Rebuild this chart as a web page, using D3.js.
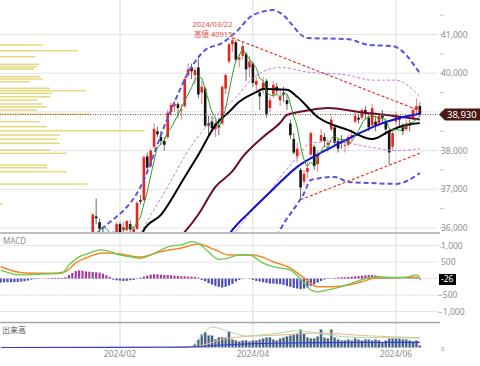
<!DOCTYPE html>
<html>
<head>
<meta charset="utf-8">
<script src="https://cdn.jsdelivr.net/npm/d3@7"></script>
<style>
  body { margin: 0; background: #fff; }
  svg { display: block; font-family: "Noto Sans", "Noto Sans CJK JP", sans-serif; }
</style>
</head>
<body>
<svg id="chart" width="480" height="366"></svg>
<script>
// ---- calendar ------------------------------------------------------------
const firstDay = '2023-12-08';
const lastDay  = '2024-06-12';
const holidays = ['2024-01-01', '2024-01-02', '2024-01-03', '2024-01-08', '2024-02-12',
                  '2024-02-23', '2024-03-20', '2024-04-29', '2024-05-03', '2024-05-06'];
const monthTicks  = ['2024-02-01', '2024-04-01', '2024-06-03'];
const monthLabels = ['2024/02', '2024/04', '2024/06'];

// ---- daily candles: [date, open, high, low, close] -----------------------
const ohlc = [
  ['2024-01-04', 33000, 33400, 32500, 33100], ['2024-01-05', 33050, 33300, 32950, 33180],
  ['2024-01-09', 33500, 33800, 33400, 33560], ['2024-01-10', 33600, 34300, 33550, 34240],
  ['2024-01-11', 34400, 34980, 34380, 34850], ['2024-01-12', 35200, 35640, 35100, 35380],
  ['2024-01-15', 35650, 35800, 35450, 35700], ['2024-01-16', 35700, 35750, 35240, 35420],
  ['2024-01-17', 35300, 35500, 35170, 35280], ['2024-01-18', 35280, 35360, 34900, 35270],
  ['2024-01-19', 35500, 35800, 35400, 35760], ['2024-01-22', 35900, 36380, 35850, 36350],
  ['2024-01-23', 36300, 36760, 36100, 36250], ['2024-01-24', 36150, 36250, 35900, 35980],
  ['2024-01-25', 35900, 36000, 35700, 35820], ['2024-01-26', 35800, 35850, 35450, 35520],
  ['2024-01-29', 35650, 35800, 35550, 35780], ['2024-01-30', 35850, 35920, 35700, 35820],
  ['2024-01-31', 35800, 36150, 35750, 36100], ['2024-02-01', 36100, 36150, 35800, 35880],
  ['2024-02-02', 35950, 36150, 35850, 36020], ['2024-02-05', 35950, 36200, 35900, 36180],
  ['2024-02-06', 36100, 36200, 35880, 35960], ['2024-02-07', 35900, 36050, 35800, 35980],
  ['2024-02-08', 35980, 36700, 35950, 36650], ['2024-02-09', 36720, 36850, 36600, 36680],
  ['2024-02-13', 36720, 37880, 36700, 37830], ['2024-02-14', 37850, 37950, 37500, 37560],
  ['2024-02-15', 37600, 38050, 37550, 38000], ['2024-02-16', 38100, 38700, 38050, 38560],
  ['2024-02-19', 38500, 38620, 38350, 38420], ['2024-02-20', 38350, 38500, 38150, 38250],
  ['2024-02-21', 38250, 38350, 38000, 38150], ['2024-02-22', 38350, 39050, 38300, 38980],
  ['2024-02-26', 39000, 39250, 38900, 39180], ['2024-02-27', 39150, 39300, 39000, 39200],
  ['2024-02-28', 39200, 39250, 38850, 39100], ['2024-02-29', 39050, 39200, 38800, 39060],
  ['2024-03-01', 39150, 39900, 39100, 39850], ['2024-03-04', 39950, 40250, 39900, 40100],
  ['2024-03-05', 40150, 40250, 39850, 40050], ['2024-03-06', 39950, 40150, 39700, 40080],
  ['2024-03-07', 40150, 40380, 39350, 39450], ['2024-03-08', 39500, 39800, 39200, 39650],
  ['2024-03-11', 39600, 39650, 38600, 38650], ['2024-03-12', 38700, 38900, 38400, 38650],
  ['2024-03-13', 38750, 38900, 38500, 38580], ['2024-03-14', 38550, 38800, 38350, 38700],
  ['2024-03-15', 38650, 38850, 38400, 38600], ['2024-03-18', 38700, 39700, 38650, 39650],
  ['2024-03-19', 39600, 40000, 39450, 39950], ['2024-03-21', 40300, 40800, 40250, 40750],
  ['2024-03-22', 40750, 40915, 40550, 40850], ['2024-03-25', 40800, 40850, 40300, 40350],
  ['2024-03-26', 40350, 40500, 40150, 40400], ['2024-03-27', 40450, 40800, 40350, 40700],
  ['2024-03-28', 40500, 40550, 39800, 40100], ['2024-03-29', 40150, 40450, 39900, 40300],
  ['2024-04-01', 40250, 40300, 39650, 39750], ['2024-04-02', 39700, 39900, 39550, 39800],
  ['2024-04-03', 39500, 39600, 39050, 39400], ['2024-04-04', 39600, 39900, 39450, 39750],
  ['2024-04-05', 39800, 39850, 38850, 38950], ['2024-04-08', 39100, 39400, 39000, 39300],
  ['2024-04-09', 39450, 39800, 39350, 39700], ['2024-04-10', 39650, 39750, 39450, 39550],
  ['2024-04-11', 39300, 39550, 39150, 39400], ['2024-04-12', 39500, 39650, 39250, 39450],
  ['2024-04-15', 39300, 39450, 39050, 39200], ['2024-04-16', 38700, 38800, 38300, 38400],
  ['2024-04-17', 38300, 38450, 37900, 37950], ['2024-04-18', 37850, 38200, 37700, 38050],
  ['2024-04-19', 37500, 37550, 36733, 37050], ['2024-04-22', 37200, 37500, 37100, 37400],
  ['2024-04-23', 37450, 37700, 37300, 37550], ['2024-04-24', 37900, 38500, 37850, 38450],
  ['2024-04-25', 38100, 38150, 37500, 37600], ['2024-04-26', 37650, 38000, 37450, 37900],
  ['2024-04-30', 38250, 38550, 38200, 38400], ['2024-05-01', 38350, 38450, 38100, 38250],
  ['2024-05-02', 38150, 38300, 37950, 38200], ['2024-05-07', 38550, 38900, 38500, 38800],
  ['2024-05-08', 38600, 38650, 38100, 38200], ['2024-05-09', 38250, 38300, 37950, 38050],
  ['2024-05-10', 38250, 38400, 38050, 38200], ['2024-05-13', 38150, 38300, 37950, 38150],
  ['2024-05-14', 38150, 38400, 38100, 38350], ['2024-05-15', 38350, 38550, 38250, 38400],
  ['2024-05-16', 38750, 39050, 38700, 38900], ['2024-05-17', 38850, 38950, 38700, 38800],
  ['2024-05-20', 38850, 39100, 38800, 39050], ['2024-05-21', 39050, 39150, 38800, 38950],
  ['2024-05-22', 38850, 38950, 38500, 38600], ['2024-05-23', 38650, 39200, 38600, 39100],
  ['2024-05-24', 38750, 38900, 38500, 38650], ['2024-05-27', 38700, 38950, 38650, 38900],
  ['2024-05-28', 38900, 39050, 38700, 38850], ['2024-05-29', 38750, 38800, 38400, 38550],
  ['2024-05-30', 38500, 38550, 37650, 37950], ['2024-05-31', 38100, 38500, 38000, 38450],
  ['2024-06-03', 38750, 39000, 38650, 38900], ['2024-06-04', 38850, 38900, 38600, 38800],
  ['2024-06-05', 38600, 38700, 38400, 38500], ['2024-06-06', 38550, 38800, 38500, 38700],
  ['2024-06-07', 38700, 38800, 38500, 38650], ['2024-06-10', 38850, 39100, 38800, 39050],
  ['2024-06-11', 39050, 39350, 38950, 39150], ['2024-06-12', 39150, 39250, 38880, 38930]
];
const lastPrice = 38930;

// ---- indicator lines: [date, value] --------------------------------------
const ma25 = [['2024-02-09', 35600], ['2024-02-13', 35950], ['2024-02-20', 36340], ['2024-03-01', 37320],
  ['2024-03-07', 37890], ['2024-03-14', 38660], ['2024-03-21', 39000], ['2024-03-26', 39260],
  ['2024-04-02', 39510], ['2024-04-04', 39590], ['2024-04-15', 39570], ['2024-04-18', 39390],
  ['2024-04-26', 38870], ['2024-05-14', 38530], ['2024-05-23', 38300], ['2024-05-30', 38500],
  ['2024-06-05', 38640], ['2024-06-12', 38710]];
const ma75 = [['2024-02-22', 35450], ['2024-03-01', 35900], ['2024-03-07', 36350], ['2024-03-14', 37060],
  ['2024-03-22', 37470], ['2024-03-27', 37835], ['2024-04-04', 38350], ['2024-04-11', 38720],
  ['2024-04-15', 38920], ['2024-04-24', 39050], ['2024-05-02', 39100], ['2024-05-17', 39000],
  ['2024-05-31', 38900], ['2024-06-12', 38800]];
const maBlue = [['2024-03-19', 35700], ['2024-03-22', 35950], ['2024-03-29', 36410], ['2024-04-09', 37010],
  ['2024-04-18', 37580], ['2024-05-01', 37990], ['2024-05-15', 38350], ['2024-05-24', 38640],
  ['2024-06-04', 38840], ['2024-06-12', 38950]];
const bbUp2 = [['2024-01-19', 35700], ['2024-01-25', 36000], ['2024-02-09', 37060], ['2024-02-22', 38840],
  ['2024-03-05', 40160], ['2024-03-11', 40600], ['2024-03-18', 40780], ['2024-03-25', 41060],
  ['2024-04-01', 41500], ['2024-04-09', 41630], ['2024-04-11', 41560], ['2024-04-23', 40910],
  ['2024-05-14', 40880], ['2024-05-22', 40730], ['2024-05-31', 40700], ['2024-06-12', 40000]];
const bbLow2 = [['2024-04-09', 35600], ['2024-04-11', 35950], ['2024-04-22', 36900], ['2024-04-24', 37240],
  ['2024-05-08', 37320], ['2024-05-14', 37190], ['2024-05-23', 37160], ['2024-06-03', 37140],
  ['2024-06-12', 37420]];
const bbUp1 = [['2024-02-09', 35880], ['2024-02-22', 37070], ['2024-03-05', 38130], ['2024-03-14', 38880],
  ['2024-03-25', 39380], ['2024-04-01', 39870], ['2024-04-11', 40150], ['2024-04-23', 40030],
  ['2024-05-14', 39950], ['2024-05-23', 39820], ['2024-06-03', 39820], ['2024-06-12', 39390]];
const bbLow1 = [['2024-03-22', 35800], ['2024-03-26', 36030], ['2024-04-01', 36470], ['2024-04-04', 36720],
  ['2024-04-11', 37310], ['2024-04-18', 37830], ['2024-04-24', 38200], ['2024-05-08', 38230],
  ['2024-05-23', 38080], ['2024-06-03', 38000], ['2024-06-12', 38050]];
const trendDown = [['2024-03-22', 40915], ['2024-06-12', 39030]];
const trendUp   = [['2024-04-19', 36733], ['2024-06-12', 37930]];

// ---- price-by-volume profile --------------------------------------------
const profilePrice = [40729, 40581, 40426, 40230, 40168, 40109, 39910, 39850, 39780, 39610, 39548,
  39481, 39393, 39307, 39204, 39127, 39049, 38938, 38747, 38618, 38514, 38403, 38292, 38189,
  38016, 37930, 37628, 37558, 37455, 37137, 36620];
const profileVol = [43, 78, 35, 39, 37, 34, 40, 43, 30, 50, 86, 52, 50, 37, 43, 47, 37, 90, 40, 47,
  145, 60, 57, 60, 50, 67, 47, 47, 67, 87, 3];

// ---- MACD ----------------------------------------------------------------
const macdLine = [['2023-12-08', 260], ['2023-12-18', 110], ['2023-12-26', 140], ['2024-01-09', 160],
  ['2024-01-11', 410], ['2024-01-16', 660], ['2024-01-19', 770], ['2024-01-24', 870], ['2024-01-26', 850],
  ['2024-01-31', 745], ['2024-02-06', 660], ['2024-02-09', 615], ['2024-02-15', 715], ['2024-02-20', 865],
  ['2024-02-26', 990], ['2024-02-29', 1020], ['2024-03-05', 1120], ['2024-03-07', 1070],
  ['2024-03-12', 805], ['2024-03-15', 585], ['2024-03-19', 605], ['2024-03-26', 715], ['2024-03-29', 715],
  ['2024-04-04', 470], ['2024-04-09', 360], ['2024-04-16', 260], ['2024-04-22', -135], ['2024-04-24', -345],
  ['2024-04-26', -400], ['2024-05-02', -345], ['2024-05-10', -245], ['2024-05-15', -135],
  ['2024-05-22', 20], ['2024-05-27', 60], ['2024-05-31', 30], ['2024-06-06', 40], ['2024-06-11', 110],
  ['2024-06-12', 65]];
const macdSignal = [['2023-12-08', 360], ['2023-12-19', 170], ['2023-12-29', 160], ['2024-01-10', 210],
  ['2024-01-15', 480], ['2024-01-18', 625], ['2024-01-25', 775], ['2024-02-01', 745], ['2024-02-09', 655],
  ['2024-02-20', 815], ['2024-02-29', 925], ['2024-03-07', 1050], ['2024-03-14', 865], ['2024-03-21', 715],
  ['2024-04-01', 715], ['2024-04-09', 510], ['2024-04-16', 320], ['2024-04-22', 20], ['2024-04-26', -245],
  ['2024-05-07', -245], ['2024-05-14', -195], ['2024-05-20', -95], ['2024-05-24', 20], ['2024-05-31', 30],
  ['2024-06-12', 40]];
// one histogram value per trading day from firstDay
const macdHist = [-120, -115, -110, -110, -105, -100, -90, -80, -60, -30, -15, -10, -5, 5, 15, 20, 25, 25,
  20, 40, 110, 170, 230, 250, 240, 220, 210, 200, 190, 180, 150, 100, 50, -30, -50, -60, -70, -65, -50, -40,
  -10, 30, 60, 90, 120, 130, 130, 120, 110, 110, 100, 90, 80, 70, 70, 60, 60, 50, 30, -40, -80, -140, -180,
  -220, -250, -270, -250, -210, -160, -90, -40, -10, 0, -10, -40, -70, -90, -110, -130, -150, -150, -160,
  -170, -190, -220, -250, -280, -300, -320, -300, -270, -220, -170, -120, -70, -30, -10, 10, 20, 30, 40, 40,
  50, 60, 70, 80, 90, 100, 110, 110, 100, 80, 50, 40, 30, 20, 10, 10, 0, 10, 20, 40, 30, -26];
const macdLast = -26;

// ---- volume (one value per trading day from volFirst) --------------------
const volFirst = '2024-02-26';
const volume = [300, 300, 500, 500, 700, 800, 1000, 3000, 8000, 13000, 15000, 12000, 12000, 8000, 10000,
  10000, 10000, 16000, 8000, 7000, 6000, 7000, 7000, 6000, 7000, 7000, 8000, 9000, 10000, 10000, 8000, 7000,
  9000, 10000, 11000, 12000, 13000, 14000, 18000, 14000, 10000, 9000, 9000, 11000, 18000, 10000, 9000, 18000,
  10000, 8000, 7000, 7000, 8000, 7000, 9000, 8000, 7000, 8000, 8000, 7000, 8000, 7000, 5000, 7000, 9000, 9000,
  9000, 9000, 8000, 8000, 7000, 6000, 7000, 2000];
const volMaShort = [['2024-03-05', 1000], ['2024-03-07', 8200], ['2024-03-13', 20500], ['2024-03-21', 15800],
  ['2024-03-28', 11500], ['2024-04-03', 12500], ['2024-04-11', 14500], ['2024-04-18', 16800],
  ['2024-04-26', 14200], ['2024-05-08', 11800], ['2024-05-21', 9800], ['2024-06-12', 9500]];
const volMaLong = [['2024-03-01', 300], ['2024-03-07', 1500], ['2024-03-21', 9500], ['2024-04-11', 12500],
  ['2024-04-30', 14500], ['2024-05-20', 12000], ['2024-06-12', 9800]];
const volMaBase = [['2023-12-08', 0], ['2024-02-29', 300], ['2024-03-22', 3000], ['2024-04-15', 4500],
  ['2024-05-15', 5000], ['2024-06-12', 5200]];

// ---- setup ---------------------------------------------------------------
const fmt   = d3.timeFormat('%Y-%m-%d');
const parse = d3.timeParse('%Y-%m-%d');
const days  = d3.timeDay.range(parse(firstDay), d3.timeDay.offset(parse(lastDay), 1))
  .filter(d => d.getDay() % 6 !== 0 && !holidays.includes(fmt(d)))
  .map(fmt);
const idx = new Map(days.map((d, i) => [d, i]));

const plotR = 438;
const x = d3.scaleLinear()
  .domain([idx.get(monthTicks[0]), idx.get(monthTicks[2])])
  .range([120, 396]);
const xd = d => x(idx.get(d));

const yP = d3.scaleLinear().domain([36000, 41000]).range([228, 34.5]);
const yM = d3.scaleLinear().domain([-1000, 1000]).range([311.6, 245.6]);
const yV = d3.scaleLinear().domain([0, 22000]).range([347.5, 325.5]);
const xProf = d3.scaleLinear().domain([0, 145]).range([0, 145]);

const svg = d3.select('#chart');
const defs = svg.append('defs');
const clip = (id, y0, y1) => defs.append('clipPath').attr('id', id)
  .append('rect').attr('x', 0).attr('y', y0).attr('width', plotR).attr('height', y1 - y0);
clip('cp', 0, 232); clip('cm', 234, 322); clip('cv', 323, 348);

const gridC = '#e4e4e4', axisC = '#8e8e8e';

// ---- grid ----------------------------------------------------------------
const grid = svg.append('g');
grid.selectAll('.hp').data(d3.range(36000, 41001, 1000)).join('line')
  .attr('x1', 0).attr('x2', plotR).attr('y1', d => yP(d)).attr('y2', d => yP(d))
  .attr('stroke', gridC);
grid.selectAll('.hm').data([-1000, -500, 0, 500, 1000]).join('line')
  .attr('x1', 0).attr('x2', plotR).attr('y1', d => yM(d)).attr('y2', d => yM(d))
  .attr('stroke', gridC);
grid.selectAll('.v').data(monthTicks).join('line')
  .attr('x1', d => xd(d)).attr('x2', d => xd(d)).attr('y1', 0).attr('y2', 348)
  .attr('stroke', '#dcdcdc');

// ---- price panel ---------------------------------------------------------
const gp = svg.append('g').attr('clip-path', 'url(#cp)');

gp.append('g').selectAll('rect').data(profilePrice).join('rect')
  .attr('x', 0).attr('y', d => yP(d) - 0.75).attr('height', 1.5)
  .attr('width', (d, i) => xProf(profileVol[i]))
  .attr('fill', '#dccb52').attr('opacity', 0.75);

const upC = '#e8221c', dnC = '#161616';
const cg = gp.append('g');
cg.selectAll('line').data(ohlc).join('line')
  .attr('x1', d => xd(d[0])).attr('x2', d => xd(d[0]))
  .attr('y1', d => yP(d[2])).attr('y2', d => yP(d[3]))
  .attr('stroke', d => d[4] >= d[1] ? '#e85a55' : '#444').attr('stroke-width', 0.8);
cg.selectAll('rect').data(ohlc).join('rect')
  .attr('x', d => xd(d[0]) - 1.3).attr('width', 2.6)
  .attr('y', d => yP(Math.max(d[1], d[4])))
  .attr('height', d => Math.max(1, Math.abs(yP(d[1]) - yP(d[4]))))
  .attr('fill', d => d[4] >= d[1] ? upC : dnC);

const lineP = d3.line().x(d => xd(d[0])).y(d => yP(d[1])).curve(d3.curveMonotoneX);
const drawP = (data, color, w, dash) => gp.append('path').datum(data)
  .attr('d', lineP).attr('fill', 'none').attr('stroke', color)
  .attr('stroke-width', w).attr('stroke-dasharray', dash || null);

drawP(bbUp1, '#c77de6', 1, '3,2');
drawP(bbLow1, '#c77de6', 1, '3,2');
drawP(bbUp2, '#5656e2', 2, '5,3');
drawP(bbLow2, '#5656e2', 2, '5,3');
drawP(ma75, '#6a0f2c', 2);
drawP(maBlue, '#1010d8', 2);
drawP(ma25, '#000', 2);

// 5-day average of the closes
const ma5 = ohlc.map((d, i) => i < 4 ? null : [d[0], d3.mean(ohlc.slice(i - 4, i + 1), r => r[4])])
  .filter(Boolean);
drawP(ma5, '#2a982a', 1);

const straight = d3.line().x(d => xd(d[0])).y(d => yP(d[1]));
drawP(trendDown, '#e23a2a', 1.2, '3,2').attr('d', straight);
drawP(trendUp, '#e23a2a', 1.2, '3,2').attr('d', straight);

gp.append('line').attr('x1', 0).attr('x2', plotR)
  .attr('y1', yP(lastPrice)).attr('y2', yP(lastPrice))
  .attr('stroke', '#6a4a46').attr('stroke-dasharray', '1,1.5');

// high annotation
const hiX = xd('2024-03-22');
svg.append('text').attr('x', hiX).attr('y', 26.5).attr('text-anchor', 'end')
  .attr('font-size', 7.5).attr('fill', '#e0504c').text('2024/03/22');
svg.append('text').attr('x', hiX).attr('y', 37).attr('text-anchor', 'end')
  .attr('font-size', 7.5).attr('fill', '#e0504c').text('高値 40915');

// ---- MACD panel ----------------------------------------------------------
const gm = svg.append('g').attr('clip-path', 'url(#cm)');
gm.selectAll('rect').data(macdHist).join('rect')
  .attr('x', (d, i) => x(i) - 1.1).attr('width', 2.2)
  .attr('y', d => yM(Math.max(0, d))).attr('height', d => Math.abs(yM(d) - yM(0)))
  .attr('fill', d => d >= 0 ? '#a43c9e' : '#4a4ab8');
const lineM = d3.line().x(d => xd(d[0])).y(d => yM(d[1])).curve(d3.curveMonotoneX);
gm.append('path').datum(macdSignal).attr('d', lineM).attr('fill', 'none')
  .attr('stroke', '#f08a2a').attr('stroke-width', 1.5);
gm.append('path').datum(macdLine).attr('d', lineM).attr('fill', 'none')
  .attr('stroke', '#6cc94a').attr('stroke-width', 1.3);

// ---- volume panel --------------------------------------------------------
const gv = svg.append('g').attr('clip-path', 'url(#cv)');
const v0 = idx.get(volFirst);
gv.selectAll('rect').data(volume).join('rect')
  .attr('x', (d, i) => x(v0 + i) - 1.2).attr('width', 2.4)
  .attr('y', d => yV(d)).attr('height', d => yV(0) - yV(d))
  .attr('fill', '#43607e').attr('stroke', '#9fb0c2').attr('stroke-width', 0.3);
const lineV = d3.line().x(d => xd(d[0])).y(d => yV(d[1])).curve(d3.curveMonotoneX);
gv.append('path').datum(volMaLong).attr('d', lineV).attr('fill', 'none')
  .attr('stroke', '#eeb58a').attr('stroke-width', 1);
gv.append('path').datum(volMaShort).attr('d', lineV).attr('fill', 'none')
  .attr('stroke', '#a8dca4').attr('stroke-width', 1);
gv.append('path').datum(volMaBase).attr('d', lineV).attr('fill', 'none')
  .attr('stroke', '#3a3ad6').attr('stroke-width', 1.2);

// ---- separators ----------------------------------------------------------
svg.selectAll('.sep').data([233, 322.5]).join('line')
  .attr('x1', 0).attr('x2', 440).attr('y1', d => d).attr('y2', d => d)
  .attr('stroke', '#a8a8a8').attr('stroke-width', 1.5);

// ---- axes text -----------------------------------------------------------
const ax = svg.append('g').attr('font-size', 8.5).attr('fill', axisC);
ax.selectAll('.tk').data(d3.range(35500, 42001, 500)).join('line')
  .attr('x1', 440).attr('x2', 444).attr('y1', d => yP(d)).attr('y2', d => yP(d))
  .attr('stroke', '#c4c4c4');
ax.selectAll('.pl').data([36000, 37000, 38000, 40000, 41000]).join('text')
  .attr('x', 441).attr('y', d => yP(d) + 3).text(d3.format(','));
ax.selectAll('.ml').data([1000, 500, -500, -1000]).join('text')
  .attr('x', d => d < 0 ? 438 : 441).attr('y', d => yM(d) + 3).text(d3.format(','));
ax.append('text').attr('x', 441).attr('y', yV(0) + 3).attr('font-size', 6).text('0');
ax.selectAll('.xl').data(monthTicks).join('text')
  .attr('x', d => xd(d)).attr('y', 357).attr('text-anchor', 'middle')
  .text((d, i) => monthLabels[i]);
ax.append('text').attr('x', 3).attr('y', 244).attr('font-size', 8).text('MACD');
ax.append('text').attr('x', 2).attr('y', 333).attr('font-size', 8).attr('fill', '#555').text('出来高');

// last price tag
const ly = yP(lastPrice);
svg.append('path')
  .attr('d', `M439,${ly} L445,${ly - 6} L480,${ly - 6} L480,${ly + 6} L445,${ly + 6} Z`)
  .attr('fill', '#4a1a15');
svg.append('text').attr('x', 447).attr('y', ly + 3.5).attr('font-size', 9.5)
  .attr('fill', '#fff').text(d3.format(',')(lastPrice));

// last MACD tag
const my = yM(macdLast);
svg.append('rect').attr('x', 439).attr('y', my - 5.5).attr('width', 17).attr('height', 11).attr('fill', '#000');
svg.append('text').attr('x', 441).attr('y', my + 3).attr('font-size', 8.5)
  .attr('fill', '#fff').text(macdLast);
</script>
</body>
</html>
